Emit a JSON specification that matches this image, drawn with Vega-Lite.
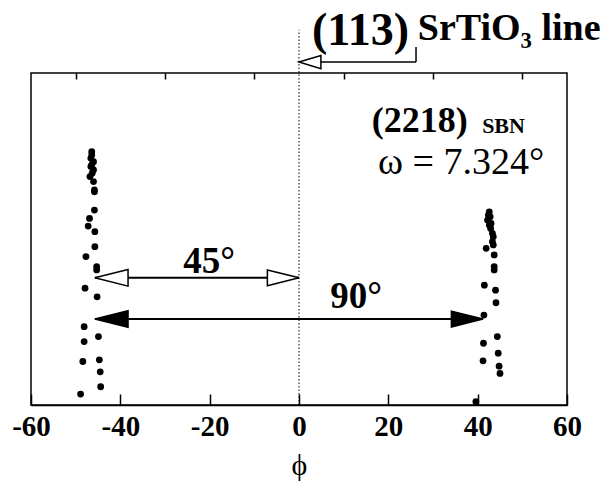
{
  "$schema": "https://vega.github.io/schema/vega-lite/v6.json",
  "width": 536,
  "height": 332,
  "autosize": {"type": "none"},
  "padding": {"left": 31, "top": 73, "right": 49, "bottom": 76},
  "background": "white",
  "config": {"view": {"stroke": "black", "strokeWidth": 1.5}, "font": "Liberation Serif"},
  "resolve": {"axis": {"x": "independent"}},
  "layer": [
    {
      "data": {"values": [
        {"phi": -46.4, "I": 76.3}, {"phi": -46.4, "I": 75.3}, {"phi": -46.6, "I": 74.3}, {"phi": -46.0, "I": 73.3},
        {"phi": -46.4, "I": 72.3}, {"phi": -46.6, "I": 71.8}, {"phi": -46.0, "I": 70.8}, {"phi": -46.3, "I": 69.8},
        {"phi": -46.8, "I": 68.8}, {"phi": -46.0, "I": 67.3}, {"phi": -45.8, "I": 64.8}, {"phi": -45.8, "I": 64.2},
        {"phi": -45.8, "I": 58.7}, {"phi": -46.9, "I": 56.2}, {"phi": -47.2, "I": 53.9}, {"phi": -45.7, "I": 52.2},
        {"phi": -45.7, "I": 47.7}, {"phi": -47.7, "I": 44.7}, {"phi": -45.3, "I": 41.7}, {"phi": -45.3, "I": 40.7},
        {"phi": -47.9, "I": 35.2}, {"phi": -45.2, "I": 32.6}, {"phi": -48.1, "I": 23.6}, {"phi": -44.9, "I": 20.6},
        {"phi": -48.1, "I": 19.1}, {"phi": -48.4, "I": 13.1}, {"phi": -44.7, "I": 13.6}, {"phi": -44.5, "I": 10.0},
        {"phi": -44.4, "I": 5.5}, {"phi": -48.9, "I": 3.3},
        {"phi": 42.6, "I": 58.2}, {"phi": 42.4, "I": 57.2}, {"phi": 42.8, "I": 56.7}, {"phi": 42.2, "I": 55.7},
        {"phi": 43.0, "I": 54.7}, {"phi": 42.6, "I": 54.2}, {"phi": 42.9, "I": 53.2}, {"phi": 43.3, "I": 51.7},
        {"phi": 43.5, "I": 50.7}, {"phi": 43.3, "I": 49.2}, {"phi": 43.5, "I": 48.2}, {"phi": 41.9, "I": 47.2},
        {"phi": 43.7, "I": 45.2}, {"phi": 43.7, "I": 41.7}, {"phi": 43.7, "I": 40.7}, {"phi": 41.5, "I": 36.1},
        {"phi": 44.0, "I": 34.6}, {"phi": 44.1, "I": 30.8}, {"phi": 41.4, "I": 27.1}, {"phi": 44.4, "I": 20.6},
        {"phi": 41.3, "I": 18.6}, {"phi": 44.6, "I": 15.6}, {"phi": 41.2, "I": 13.3}, {"phi": 44.8, "I": 11.7},
        {"phi": 45.0, "I": 9.5}, {"phi": 39.6, "I": 1.0}
      ]},
      "mark": {"type": "circle", "size": 46, "color": "black", "opacity": 1},
      "encoding": {
        "x": {
          "field": "phi", "type": "quantitative",
          "scale": {"domain": [-60, 60], "nice": false, "zero": false},
          "axis": {
            "values": [-60, -40, -20, 0, 20, 40, 60],
            "tickSize": -11,
            "labelExpr": "datum.value < 0 ? '-' + abs(datum.value) : '' + datum.value",
            "labelFont": "Liberation Serif", "labelFontWeight": "bold", "labelFontSize": 29, "labelColor": "black",
            "labelFlush": false, "labelOverlap": false, "labelPadding": 18,
            "tickColor": "black", "tickWidth": 1.5, "domainColor": "black", "domainWidth": 1.5, "grid": false,
            "title": "ϕ", "titleFont": "Liberation Serif", "titleFontSize": 30, "titleFontWeight": "normal", "titleColor": "black", "titlePadding": 9
          }
        },
        "y": {"field": "I", "type": "quantitative", "scale": {"domain": [0, 100], "nice": false}, "axis": null}
      }
    },
    {
      "data": {"values": [{"x": 0, "y": 0, "y2": 113}]},
      "mark": {"type": "rule", "strokeDash": [1.5, 2], "strokeWidth": 1, "color": "black", "clip": false},
      "encoding": {
        "x": {
          "field": "x", "type": "quantitative",
          "axis": {
            "values": [-50, -30, -10, 10, 30, 50],
            "tickSize": -6, "labels": false, "domain": false, "grid": false, "title": null,
            "tickColor": "black", "tickWidth": 1.5
          }
        },
        "y": {"field": "y", "type": "quantitative"},
        "y2": {"field": "y2"}
      }
    },
    {
      "data": {"values": [
        {"arrow": "45", "x": -45.7, "x2": 0, "y": 38.3},
        {"arrow": "90", "x": -45.7, "x2": 41.2, "y": 25.9}
      ]},
      "layer": [
        {
          "mark": {"type": "rule", "strokeWidth": 2, "color": "black"},
          "encoding": {
            "x": {"field": "x", "type": "quantitative", "axis": null},
            "x2": {"field": "x2"},
            "y": {"field": "y", "type": "quantitative"}
          }
        },
        {
          "mark": {"type": "point", "shape": "M0,0L2,-0.5L2,0.5Z", "size": 1100, "filled": true, "opacity": 1, "stroke": "black", "strokeWidth": 1.5},
          "encoding": {
            "x": {"field": "x", "type": "quantitative", "axis": null},
            "y": {"field": "y", "type": "quantitative"},
            "fill": {"field": "arrow", "type": "nominal", "scale": {"domain": ["45", "90"], "range": ["white", "black"]}, "legend": null}
          }
        },
        {
          "mark": {"type": "point", "shape": "M0,0L-2,-0.5L-2,0.5Z", "size": 1000, "filled": true, "opacity": 1, "stroke": "black", "strokeWidth": 1.5},
          "encoding": {
            "x": {"field": "x2", "type": "quantitative", "axis": null},
            "y": {"field": "y", "type": "quantitative"},
            "fill": {"field": "arrow", "type": "nominal", "scale": {"domain": ["45", "90"], "range": ["white", "black"]}, "legend": null}
          }
        }
      ]
    },
    {
      "data": {"values": [{"x": 0, "x2": 26.2, "y": 103.3, "y2": 107.8}]},
      "layer": [
        {
          "mark": {"type": "rule", "strokeWidth": 1.5, "color": "black", "clip": false},
          "encoding": {
            "x": {"field": "x", "type": "quantitative", "axis": null},
            "x2": {"field": "x2"},
            "y": {"field": "y", "type": "quantitative"}
          }
        },
        {
          "mark": {"type": "rule", "strokeWidth": 1.5, "color": "black", "clip": false},
          "encoding": {
            "x": {"field": "x2", "type": "quantitative", "axis": null},
            "y": {"field": "y", "type": "quantitative"},
            "y2": {"field": "y2"}
          }
        },
        {
          "mark": {"type": "point", "shape": "M0,0L2,-0.6L2,0.6Z", "size": 480, "filled": true, "fill": "white", "opacity": 1, "stroke": "black", "strokeWidth": 1.5},
          "encoding": {
            "x": {"field": "x", "type": "quantitative", "axis": null},
            "y": {"field": "y", "type": "quantitative"}
          }
        }
      ]
    },
    {
      "data": {"values": [{"x": 2.9, "y": 108.4, "t": "(113)"}]},
      "mark": {"type": "text", "align": "left", "baseline": "alphabetic", "font": "Liberation Serif", "fontWeight": "bold", "fontSize": 46, "color": "black"},
      "encoding": {"x": {"field": "x", "type": "quantitative", "axis": null}, "y": {"field": "y", "type": "quantitative"}, "text": {"field": "t"}}
    },
    {
      "data": {"values": [{"x": 26.6, "y": 109.9, "t": "SrTiO₃ line"}]},
      "mark": {"type": "text", "align": "left", "baseline": "alphabetic", "font": "Liberation Serif", "fontWeight": "bold", "fontSize": 38, "color": "black"},
      "encoding": {"x": {"field": "x", "type": "quantitative", "axis": null}, "y": {"field": "y", "type": "quantitative"}, "text": {"field": "t"}}
    },
    {
      "data": {"values": [{"x": 16.3, "y": 82.3, "t": "(2218)"}]},
      "mark": {"type": "text", "align": "left", "baseline": "alphabetic", "font": "Liberation Serif", "fontWeight": "bold", "fontSize": 36, "color": "black"},
      "encoding": {"x": {"field": "x", "type": "quantitative", "axis": null}, "y": {"field": "y", "type": "quantitative"}, "text": {"field": "t"}}
    },
    {
      "data": {"values": [{"x": 41.0, "y": 81.8, "t": "SBN"}]},
      "mark": {"type": "text", "align": "left", "baseline": "alphabetic", "font": "Liberation Serif", "fontWeight": "bold", "fontSize": 22, "color": "black"},
      "encoding": {"x": {"field": "x", "type": "quantitative", "axis": null}, "y": {"field": "y", "type": "quantitative"}, "text": {"field": "t"}}
    },
    {
      "data": {"values": [{"x": 17.7, "y": 69.5, "t": "ω = 7.324°"}]},
      "mark": {"type": "text", "align": "left", "baseline": "alphabetic", "font": "Liberation Serif", "fontWeight": "normal", "fontSize": 38, "color": "black"},
      "encoding": {"x": {"field": "x", "type": "quantitative", "axis": null}, "y": {"field": "y", "type": "quantitative"}, "text": {"field": "t"}}
    },
    {
      "data": {"values": [{"x": -20.1, "y": 39.8, "t": "45°"}, {"x": 12.8, "y": 29.2, "t": "90°"}]},
      "mark": {"type": "text", "align": "center", "baseline": "alphabetic", "font": "Liberation Serif", "fontWeight": "bold", "fontSize": 37, "color": "black"},
      "encoding": {"x": {"field": "x", "type": "quantitative", "axis": null}, "y": {"field": "y", "type": "quantitative"}, "text": {"field": "t"}}
    }
  ]
}
